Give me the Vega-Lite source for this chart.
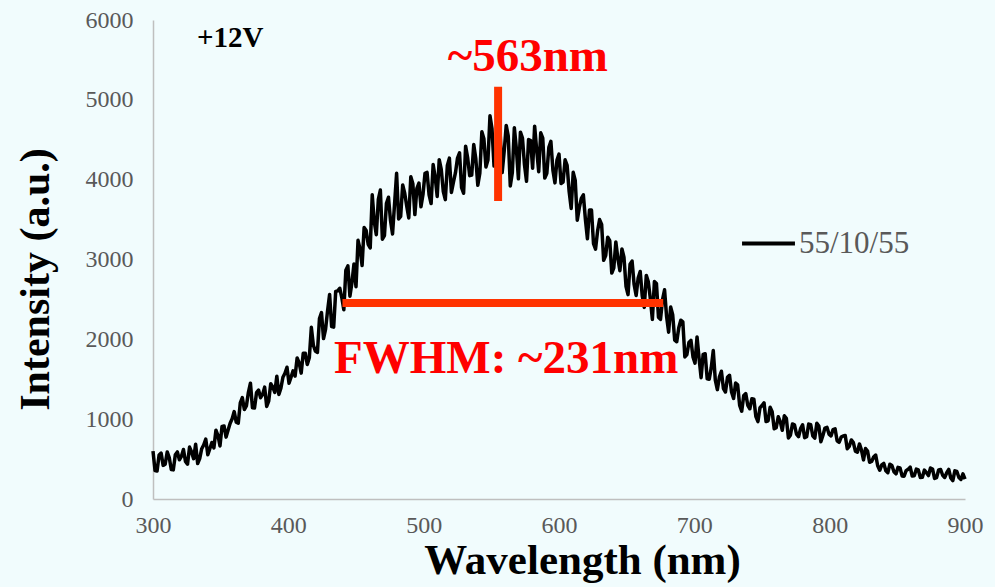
{
  "$schema": "https://vega.github.io/schema/vega-lite/v6.json",
  "autosize": "none",
  "width": 812,
  "height": 479,
  "padding": {"left": 153, "top": 20, "right": 30, "bottom": 88},
  "background": "#f1fcfd",
  "config": {
    "view": {"stroke": null},
    "font": "Liberation Serif",
    "axis": {
      "grid": false,
      "ticks": false,
      "labelFlush": false,
      "labelOverlap": false,
      "format": "d",
      "domainColor": "#bfbfbf",
      "domainWidth": 1.5,
      "labelColor": "#595959",
      "labelFont": "Liberation Serif",
      "labelFontSize": 24,
      "titleFont": "Liberation Serif",
      "titleFontWeight": "bold",
      "titleColor": "#000000"
    }
  },
  "datasets": {
    "spectrum": [
      {"wl":300,"i":600},{"wl":303,"i":350},{"wl":306,"i":575},{"wl":309,"i":435},{"wl":312,"i":520},{"wl":315,"i":365},{"wl":318,"i":590},{"wl":321,"i":535},{"wl":324,"i":470},{"wl":327,"i":650},
      {"wl":330,"i":505},{"wl":333,"i":445},{"wl":336,"i":630},{"wl":339,"i":750},{"wl":342,"i":630},{"wl":345,"i":640},{"wl":348,"i":795},{"wl":351,"i":910},{"wl":354,"i":775},{"wl":357,"i":950},
      {"wl":360,"i":1095},{"wl":363,"i":950},{"wl":366,"i":1270},{"wl":369,"i":1165},{"wl":372,"i":1450},{"wl":375,"i":1140},{"wl":378,"i":1365},{"wl":381,"i":1310},{"wl":384,"i":1160},{"wl":387,"i":1445},
      {"wl":390,"i":1335},{"wl":393,"i":1310},{"wl":396,"i":1525},{"wl":399,"i":1650},{"wl":402,"i":1525},{"wl":405,"i":1540},{"wl":408,"i":1705},{"wl":411,"i":1825},{"wl":414,"i":1685},{"wl":417,"i":2150},
      {"wl":420,"i":1850},{"wl":423,"i":2260},{"wl":426,"i":2010},{"wl":429,"i":2360},{"wl":432,"i":2160},{"wl":435,"i":2600},{"wl":438,"i":2640},{"wl":441,"i":2370},{"wl":444,"i":2920},{"wl":447,"i":2710},
      {"wl":450,"i":2660},{"wl":453,"i":3130},{"wl":456,"i":3400},{"wl":459,"i":3190},{"wl":462,"i":3810},{"wl":465,"i":3310},{"wl":468,"i":3870},{"wl":471,"i":3300},{"wl":474,"i":3780},{"wl":477,"i":3320},
      {"wl":480,"i":4080},{"wl":483,"i":3540},{"wl":486,"i":3830},{"wl":489,"i":3520},{"wl":492,"i":3950},{"wl":495,"i":3890},{"wl":498,"i":3660},{"wl":501,"i":4080},{"wl":504,"i":3810},{"wl":507,"i":4190},
      {"wl":510,"i":3790},{"wl":513,"i":4130},{"wl":516,"i":3750},{"wl":519,"i":4270},{"wl":522,"i":3970},{"wl":525,"i":4270},{"wl":528,"i":3900},{"wl":531,"i":4420},{"wl":534,"i":4050},{"wl":537,"i":4440},
      {"wl":540,"i":3930},{"wl":543,"i":4600},{"wl":546,"i":4160},{"wl":549,"i":4800},{"wl":552,"i":4170},{"wl":555,"i":4850},{"wl":558,"i":4090},{"wl":561,"i":4680},{"wl":564,"i":3920},{"wl":567,"i":4650},
      {"wl":570,"i":4010},{"wl":573,"i":4520},{"wl":576,"i":3980},{"wl":579,"i":4490},{"wl":582,"i":4670},{"wl":585,"i":4100},{"wl":588,"i":4520},{"wl":591,"i":4080},{"wl":594,"i":4480},{"wl":597,"i":3960},
      {"wl":600,"i":4320},{"wl":603,"i":3970},{"wl":606,"i":4180},{"wl":609,"i":3640},{"wl":612,"i":3990},{"wl":615,"i":3650},{"wl":618,"i":3810},{"wl":621,"i":3260},{"wl":624,"i":3620},{"wl":627,"i":3130},
      {"wl":630,"i":3500},{"wl":633,"i":2990},{"wl":636,"i":3280},{"wl":639,"i":2830},{"wl":642,"i":3220},{"wl":645,"i":2860},{"wl":648,"i":3030},{"wl":651,"i":2560},{"wl":654,"i":2980},{"wl":657,"i":2550},
      {"wl":660,"i":2850},{"wl":663,"i":2400},{"wl":666,"i":2720},{"wl":669,"i":2250},{"wl":672,"i":2700},{"wl":675,"i":2250},{"wl":678,"i":2620},{"wl":681,"i":2090},{"wl":684,"i":2310},{"wl":687,"i":1970},
      {"wl":690,"i":2240},{"wl":693,"i":1780},{"wl":696,"i":1960},{"wl":699,"i":1780},{"wl":702,"i":2030},{"wl":705,"i":1520},{"wl":708,"i":1820},{"wl":711,"i":1500},{"wl":714,"i":1860},{"wl":717,"i":1370},
      {"wl":720,"i":1600},{"wl":723,"i":1340},{"wl":726,"i":1550},{"wl":729,"i":1260},{"wl":732,"i":1430},{"wl":735,"i":1100},{"wl":738,"i":1320},{"wl":741,"i":1130},{"wl":744,"i":1250},{"wl":747,"i":970},
      {"wl":750,"i":1170},{"wl":753,"i":970},{"wl":756,"i":1150},{"wl":759,"i":880},{"wl":762,"i":1030},{"wl":765,"i":860},{"wl":768,"i":1010},{"wl":771,"i":800},{"wl":774,"i":930},{"wl":777,"i":780},
      {"wl":780,"i":930},{"wl":783,"i":780},{"wl":786,"i":930},{"wl":789,"i":762},{"wl":792,"i":914},{"wl":795,"i":796},{"wl":798,"i":898},{"wl":801,"i":790},{"wl":804,"i":880},{"wl":807,"i":710},
      {"wl":810,"i":790},{"wl":813,"i":630},{"wl":816,"i":740},{"wl":819,"i":600},{"wl":822,"i":690},{"wl":825,"i":490},{"wl":828,"i":600},{"wl":831,"i":470},{"wl":834,"i":550},{"wl":837,"i":360},
      {"wl":840,"i":445},{"wl":843,"i":330},{"wl":846,"i":420},{"wl":849,"i":315},{"wl":852,"i":390},{"wl":855,"i":286},{"wl":858,"i":372},{"wl":861,"i":288},{"wl":864,"i":374},{"wl":867,"i":270},
      {"wl":870,"i":362},{"wl":873,"i":294},{"wl":876,"i":376},{"wl":879,"i":268},{"wl":882,"i":370},{"wl":885,"i":270},{"wl":888,"i":370},{"wl":891,"i":230},{"wl":894,"i":345},{"wl":897,"i":245},
      {"wl":900,"i":250},
      {"wl":301.5,"i":357},{"wl":304.5,"i":551},{"wl":307.5,"i":421},{"wl":310.5,"i":589},{"wl":313.5,"i":370},{"wl":316.5,"i":554},{"wl":319.5,"i":491},{"wl":322.5,"i":621},{"wl":325.5,"i":436},{"wl":328.5,"i":589},
      {"wl":331.5,"i":687},{"wl":334.5,"i":505},{"wl":337.5,"i":678},{"wl":340.5,"i":554},{"wl":343.5,"i":708},{"wl":346.5,"i":862},{"wl":349.5,"i":665},{"wl":352.5,"i":915},{"wl":355.5,"i":863},{"wl":358.5,"i":1006},
      {"wl":361.5,"i":962},{"wl":364.5,"i":1204},{"wl":367.5,"i":1121},{"wl":370.5,"i":1337},{"wl":373.5,"i":1143},{"wl":376.5,"i":1332},{"wl":379.5,"i":1269},{"wl":382.5,"i":1401},{"wl":385.5,"i":1226},{"wl":388.5,"i":1401},
      {"wl":391.5,"i":1537},{"wl":394.5,"i":1387},{"wl":397.5,"i":1575},{"wl":400.5,"i":1451},{"wl":403.5,"i":1605},{"wl":406.5,"i":1767},{"wl":409.5,"i":1577},{"wl":412.5,"i":1827},{"wl":415.5,"i":1768},{"wl":418.5,"i":1926},
      {"wl":421.5,"i":1837},{"wl":424.5,"i":2334},{"wl":427.5,"i":2126},{"wl":430.5,"i":2562},{"wl":433.5,"i":2153},{"wl":436.5,"i":2607},{"wl":439.5,"i":2524},{"wl":442.5,"i":2866},{"wl":445.5,"i":2541},{"wl":448.5,"i":2944},
      {"wl":451.5,"i":3240},{"wl":454.5,"i":2925},{"wl":457.5,"i":3363},{"wl":460.5,"i":3144},{"wl":463.5,"i":3473},{"wl":466.5,"i":3752},{"wl":469.5,"i":3255},{"wl":472.5,"i":3705},{"wl":475.5,"i":3488},{"wl":478.5,"i":3696},
      {"wl":481.5,"i":3507},{"wl":484.5,"i":3934},{"wl":487.5,"i":3666},{"wl":490.5,"i":4037},{"wl":493.5,"i":3563},{"wl":496.5,"i":3957},{"wl":499.5,"i":3814},{"wl":502.5,"i":4091},{"wl":505.5,"i":3701},{"wl":508.5,"i":4034},
      {"wl":511.5,"i":4250},{"wl":514.5,"i":3850},{"wl":517.5,"i":4178},{"wl":520.5,"i":3839},{"wl":523.5,"i":4088},{"wl":526.5,"i":4337},{"wl":529.5,"i":3830},{"wl":532.5,"i":4275},{"wl":535.5,"i":4058},{"wl":538.5,"i":4266},
      {"wl":541.5,"i":4082},{"wl":544.5,"i":4514},{"wl":547.5,"i":4246},{"wl":550.5,"i":4637},{"wl":553.5,"i":4208},{"wl":556.5,"i":4582},{"wl":559.5,"i":4354},{"wl":562.5,"i":4546},{"wl":565.5,"i":4086},{"wl":568.5,"i":4389},
      {"wl":571.5,"i":4595},{"wl":574.5,"i":4185},{"wl":577.5,"i":4503},{"wl":580.5,"i":4144},{"wl":583.5,"i":4373},{"wl":586.5,"i":4587},{"wl":589.5,"i":4020},{"wl":592.5,"i":4405},{"wl":595.5,"i":4118},{"wl":598.5,"i":4246},
      {"wl":601.5,"i":3952},{"wl":604.5,"i":4249},{"wl":607.5,"i":3851},{"wl":610.5,"i":4092},{"wl":613.5,"i":3493},{"wl":616.5,"i":3767},{"wl":619.5,"i":3504},{"wl":622.5,"i":3619},{"wl":625.5,"i":3199},{"wl":628.5,"i":3356},
      {"wl":631.5,"i":3440},{"wl":634.5,"i":3050},{"wl":637.5,"i":3237},{"wl":640.5,"i":2896},{"wl":643.5,"i":3012},{"wl":646.5,"i":3133},{"wl":649.5,"i":2665},{"wl":652.5,"i":2940},{"wl":655.5,"i":2687},{"wl":658.5,"i":2769},
      {"wl":661.5,"i":2543},{"wl":664.5,"i":2801},{"wl":667.5,"i":2509},{"wl":670.5,"i":2723},{"wl":673.5,"i":2277},{"wl":676.5,"i":2498},{"wl":679.5,"i":2286},{"wl":682.5,"i":2404},{"wl":685.5,"i":1989},{"wl":688.5,"i":2146},
      {"wl":691.5,"i":2220},{"wl":694.5,"i":1810},{"wl":697.5,"i":1987},{"wl":700.5,"i":1701},{"wl":703.5,"i":1763},{"wl":706.5,"i":1812},{"wl":709.5,"i":1505},{"wl":712.5,"i":1645},{"wl":715.5,"i":1488},{"wl":718.5,"i":1526},
      {"wl":721.5,"i":1382},{"wl":724.5,"i":1524},{"wl":727.5,"i":1341},{"wl":730.5,"i":1452},{"wl":733.5,"i":1173},{"wl":736.5,"i":1297},{"wl":739.5,"i":1174},{"wl":742.5,"i":1256},{"wl":745.5,"i":1031},{"wl":748.5,"i":1144},
      {"wl":751.5,"i":1205},{"wl":754.5,"i":980},{"wl":757.5,"i":1093},{"wl":760.5,"i":894},{"wl":763.5,"i":968},{"wl":766.5,"i":1042},{"wl":769.5,"i":765},{"wl":772.5,"i":940},{"wl":775.5,"i":813},{"wl":778.5,"i":881},
      {"wl":781.5,"i":767},{"wl":784.5,"i":939},{"wl":787.5,"i":792},{"wl":790.5,"i":950},{"wl":793.5,"i":718},{"wl":796.5,"i":889},{"wl":799.5,"i":813},{"wl":802.5,"i":869},{"wl":805.5,"i":729},{"wl":808.5,"i":776},
      {"wl":811.5,"i":795},{"wl":814.5,"i":660},{"wl":817.5,"i":707},{"wl":820.5,"i":586},{"wl":823.5,"i":612},{"wl":826.5,"i":633},{"wl":829.5,"i":460},{"wl":832.5,"i":525},{"wl":835.5,"i":417},{"wl":838.5,"i":426},
      {"wl":841.5,"i":355},{"wl":844.5,"i":436},{"wl":847.5,"i":341},{"wl":850.5,"i":396},{"wl":853.5,"i":289},{"wl":856.5,"i":355},{"wl":859.5,"i":400},{"wl":862.5,"i":291},{"wl":865.5,"i":364},{"wl":868.5,"i":272},
      {"wl":871.5,"i":330},{"wl":874.5,"i":388},{"wl":877.5,"i":257},{"wl":880.5,"i":364},{"wl":883.5,"i":297},{"wl":886.5,"i":329},{"wl":889.5,"i":263},{"wl":892.5,"i":353},{"wl":895.5,"i":269},{"wl":898.5,"i":316}
    ],
    "marks": [
      {"x1": 555, "x2": 555, "y1": 3734, "y2": 5163},
      {"x1": 440, "x2": 677, "y1": 2456, "y2": 2456}
    ],
    "redLabels": [
      {"wl": 577, "i": 5540, "label": "~563nm"},
      {"wl": 561, "i": 1754, "label": "FWHM: ~231nm"}
    ],
    "voltage": [
      {"wl": 357, "i": 5770, "label": "+12V"}
    ]
  },
  "layer": [
    {
      "data": {"name": "spectrum"},
      "transform": [{"calculate": "'55/10/55'", "as": "series"}],
      "mark": {"type": "line", "strokeWidth": 3.5, "strokeJoin": "round"},
      "encoding": {
        "x": {
          "field": "wl", "type": "quantitative",
          "scale": {"domain": [300, 900], "nice": false, "zero": false},
          "axis": {"values": [300, 400, 500, 600, 700, 800, 900], "title": "Wavelength (nm)", "titleFontSize": 43, "labelPadding": 14, "titleX": 429, "titleY": 74, "titleBaseline": "alphabetic", "titleAnchor": null}
        },
        "y": {
          "field": "i", "type": "quantitative",
          "scale": {"domain": [0, 6000], "nice": false},
          "axis": {"values": [0, 1000, 2000, 3000, 4000, 5000, 6000], "title": "Intensity (a.u.)", "titleFontSize": 42, "labelPadding": 20, "titleX": -118, "titleY": 259, "titleAngle": -90, "titleAlign": "center", "titleBaseline": "middle"}
        },
        "color": {
          "field": "series", "type": "nominal",
          "scale": {"range": ["#000000"]},
          "legend": {
            "title": null, "orient": "none", "legendX": 587, "legendY": 195,
            "symbolType": "stroke", "symbolSize": 2800, "symbolStrokeWidth": 4,
            "labelFontSize": 31, "labelColor": "#595959", "labelFont": "Liberation Serif",
            "labelOffset": 2, "padding": 0
          }
        }
      }
    },
    {
      "data": {"name": "marks"},
      "mark": {"type": "rule", "color": "#ff3300", "strokeWidth": 8},
      "encoding": {
        "x": {"field": "x1", "type": "quantitative"},
        "x2": {"field": "x2"},
        "y": {"field": "y1", "type": "quantitative"},
        "y2": {"field": "y2"}
      }
    },
    {
      "data": {"name": "redLabels"},
      "mark": {"type": "text", "color": "#ff0000", "font": "Liberation Serif", "fontWeight": "bold", "fontSize": 47, "align": "center", "baseline": "middle"},
      "encoding": {
        "x": {"field": "wl", "type": "quantitative"},
        "y": {"field": "i", "type": "quantitative"},
        "text": {"field": "label"}
      }
    },
    {
      "data": {"name": "voltage"},
      "mark": {"type": "text", "color": "#000000", "font": "Liberation Serif", "fontWeight": "bold", "fontSize": 29, "align": "center", "baseline": "middle"},
      "encoding": {
        "x": {"field": "wl", "type": "quantitative"},
        "y": {"field": "i", "type": "quantitative"},
        "text": {"field": "label"}
      }
    }
  ]
}
